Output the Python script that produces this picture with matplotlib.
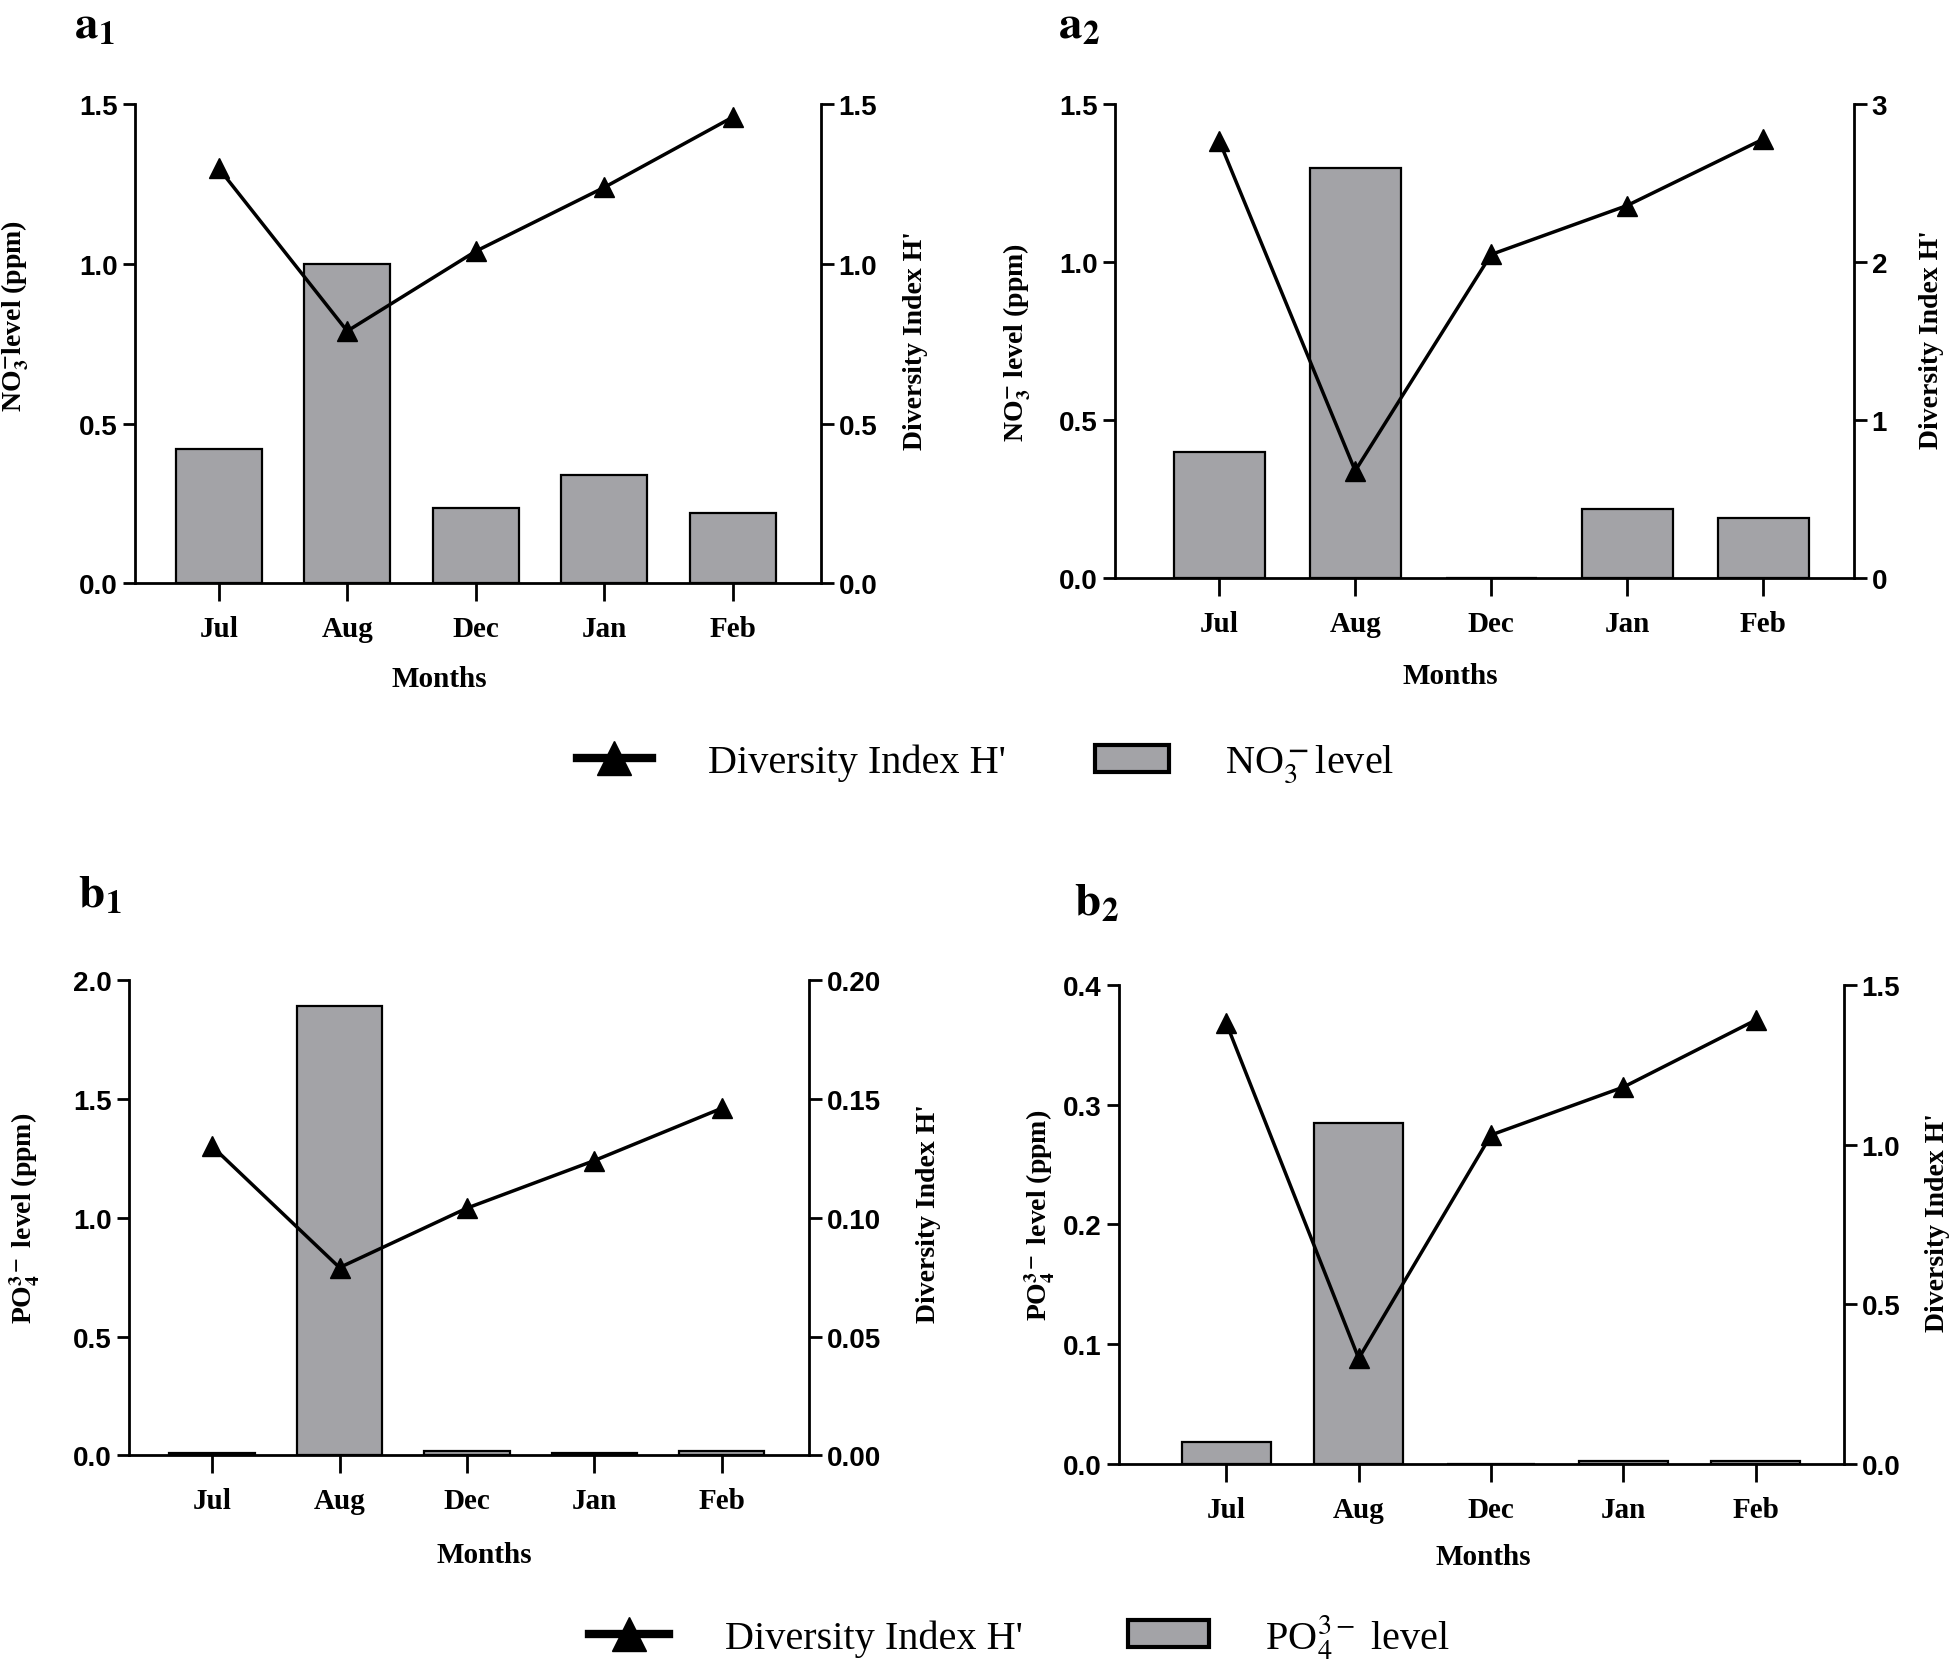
import matplotlib
matplotlib.use('Agg')
import matplotlib.pyplot as plt
from matplotlib.lines import Line2D
from matplotlib.patches import Patch

plt.rcParams['mathtext.fontset'] = 'stix'

months = ['Jul', 'Aug', 'Dec', 'Jan', 'Feb']

# a1: NO3- (ppm) и индекс разнообразия
a1_no3 = [0.42, 1.00, 0.235, 0.34, 0.22]
a1_h = [1.30, 0.79, 1.04, 1.24, 1.46]
# a2
a2_no3 = [0.40, 1.30, 0.0, 0.22, 0.19]
a2_h = [2.77, 0.68, 2.05, 2.36, 2.78]
# b1: PO4 3- (ppm)
b1_po4 = [0.008, 1.89, 0.018, 0.008, 0.018]
b1_h = [0.130, 0.079, 0.104, 0.124, 0.146]
# b2
b2_po4 = [0.018, 0.285, 0.0, 0.002, 0.002]
b2_h = [1.38, 0.33, 1.03, 1.18, 1.39]

GRAY = '#a3a3a7'
SERIF = 'Liberation Serif'
SANS = 'Liberation Sans'

fig = plt.figure(figsize=(19.6, 16.74), dpi=100)


def panel(rect, bars, line, ylim, yticks, ylim2, yticks2, ytl2, xlim,
          left_label, lab_pos, months_xy, tag, tag_xy):
    ax = fig.add_axes(rect)
    x = list(range(len(months)))
    ax.bar(x, bars, width=0.67, color=GRAY, edgecolor='black', linewidth=1.6, zorder=2)
    ax.set_xlim(*xlim)
    ax.set_ylim(*ylim)
    ax.set_yticks(yticks)
    ax.set_yticklabels([f'{t:.1f}' for t in yticks])
    ax.set_xticks(x)
    ax.set_xticklabels(months)
    for s in ['top', 'right']:
        ax.spines[s].set_visible(False)
    for s in ['left', 'bottom']:
        ax.spines[s].set_linewidth(2.0)
    ax.tick_params(axis='both', direction='out', length=9, width=2.0)
    ax.tick_params(axis='x', length=13, pad=10)
    for lab in ax.get_yticklabels():
        lab.set_fontfamily(SANS)
        lab.set_fontweight('bold')
        lab.set_fontsize(20)
    for lab in ax.get_xticklabels():
        lab.set_fontfamily(SERIF)
        lab.set_fontweight('bold')
        lab.set_fontsize(21)

    ax2 = ax.twinx()
    ax2.plot(x, line, '-^', color='black', linewidth=2.5, markersize=15, zorder=3)
    ax2.set_ylim(*ylim2)
    ax2.set_yticks(yticks2)
    ax2.set_yticklabels(ytl2)
    for s in ['top', 'left', 'bottom']:
        ax2.spines[s].set_visible(False)
    ax2.spines['right'].set_linewidth(2.0)
    ax2.tick_params(axis='y', direction='out', length=9, width=2.0)
    for lab in ax2.get_yticklabels():
        lab.set_fontfamily(SANS)
        lab.set_fontweight('bold')
        lab.set_fontsize(20)

    ax.text(lab_pos[0], lab_pos[1], left_label, transform=ax.transAxes, rotation=90,
            ha='center', va='center', fontsize=20, fontweight='bold', family=SERIF)
    ax.text(lab_pos[2], lab_pos[3], "Diversity Index H'", transform=ax.transAxes,
            rotation=90, ha='center', va='center', fontsize=20, fontweight='bold',
            family=SERIF)
    ax.text(months_xy[0], months_xy[1], 'Months', transform=ax.transAxes, ha='center',
            va='center', fontsize=21, fontweight='bold', family=SERIF)
    fig.text(tag_xy[0], tag_xy[1], tag, fontsize=34, ha='left', va='baseline')
    return ax


no3_lab = r'NO$_\mathbf{3}^{\mathbf{-}}$level (ppm)'
no3_lab2 = r'NO$_\mathbf{3}^{\mathbf{-}}$ level (ppm)'
po4_lab = r'PO$_\mathbf{4}^{\mathbf{3-}}$ level (ppm)'

panel([0.069, 0.651, 0.350, 0.286], a1_no3, a1_h, (0, 1.5), [0, 0.5, 1.0, 1.5],
      (0, 1.5), [0, 0.5, 1.0, 1.5], ['0.0', '0.5', '1.0', '1.5'], (-0.65, 4.69),
      no3_lab, (-0.175, 0.56, 1.138, 0.51), (0.443, -0.199),
      r'$\mathbf{a}_\mathbf{1}$', (0.038, 0.977))

panel([0.569, 0.654, 0.377, 0.283], a2_no3, a2_h, (0, 1.5), [0, 0.5, 1.0, 1.5],
      (0, 3), [0, 1, 2, 3], ['0', '1', '2', '3'], (-0.765, 4.67),
      no3_lab2, (-0.132, 0.50, 1.105, 0.505), (0.453, -0.206),
      r'$\mathbf{a}_\mathbf{2}$', (0.540, 0.977))

panel([0.066, 0.130, 0.347, 0.284], b1_po4, b1_h, (0, 2.0), [0, 0.5, 1.0, 1.5, 2.0],
      (0, 0.20), [0, 0.05, 0.10, 0.15, 0.20], ['0.00', '0.05', '0.10', '0.15', '0.20'],
      (-0.65, 4.69), po4_lab, (-0.154, 0.50, 1.175, 0.51), (0.522, -0.208),
      r'$\mathbf{b}_\mathbf{1}$', (0.040, 0.458))

panel([0.571, 0.125, 0.370, 0.286], b2_po4, b2_h, (0, 0.4), [0, 0.1, 0.2, 0.3, 0.4],
      (0, 1.5), [0, 0.5, 1.0, 1.5], ['0.0', '0.5', '1.0', '1.5'], (-0.81, 4.67),
      po4_lab, (-0.109, 0.52, 1.129, 0.507), (0.502, -0.193),
      r'$\mathbf{b}_\mathbf{2}$', (0.548, 0.453))

# Легенды
h_line = Line2D([0], [0], color='black', linewidth=6, marker='^', markersize=24)
h_bar = Patch(facecolor=GRAY, edgecolor='black', linewidth=3)

fig.legend([h_line, h_bar], ["Diversity Index H'", r'NO$_3^{\bf -}$level'],
           loc='center', bbox_to_anchor=(0.503, 0.543), ncol=2, frameon=False,
           prop={'family': SERIF, 'size': 29}, handlelength=1.85, handleheight=0.65,
           handletextpad=1.4, columnspacing=2.2)
fig.legend([h_line, h_bar], ["Diversity Index H'", r'PO$_4^{3-}$ level'],
           loc='center', bbox_to_anchor=(0.52, 0.022), ncol=2, frameon=False,
           prop={'family': SERIF, 'size': 29}, handlelength=2.0, handleheight=0.65,
           handletextpad=1.4, columnspacing=2.6)

fig.savefig('out.png', dpi=100)
